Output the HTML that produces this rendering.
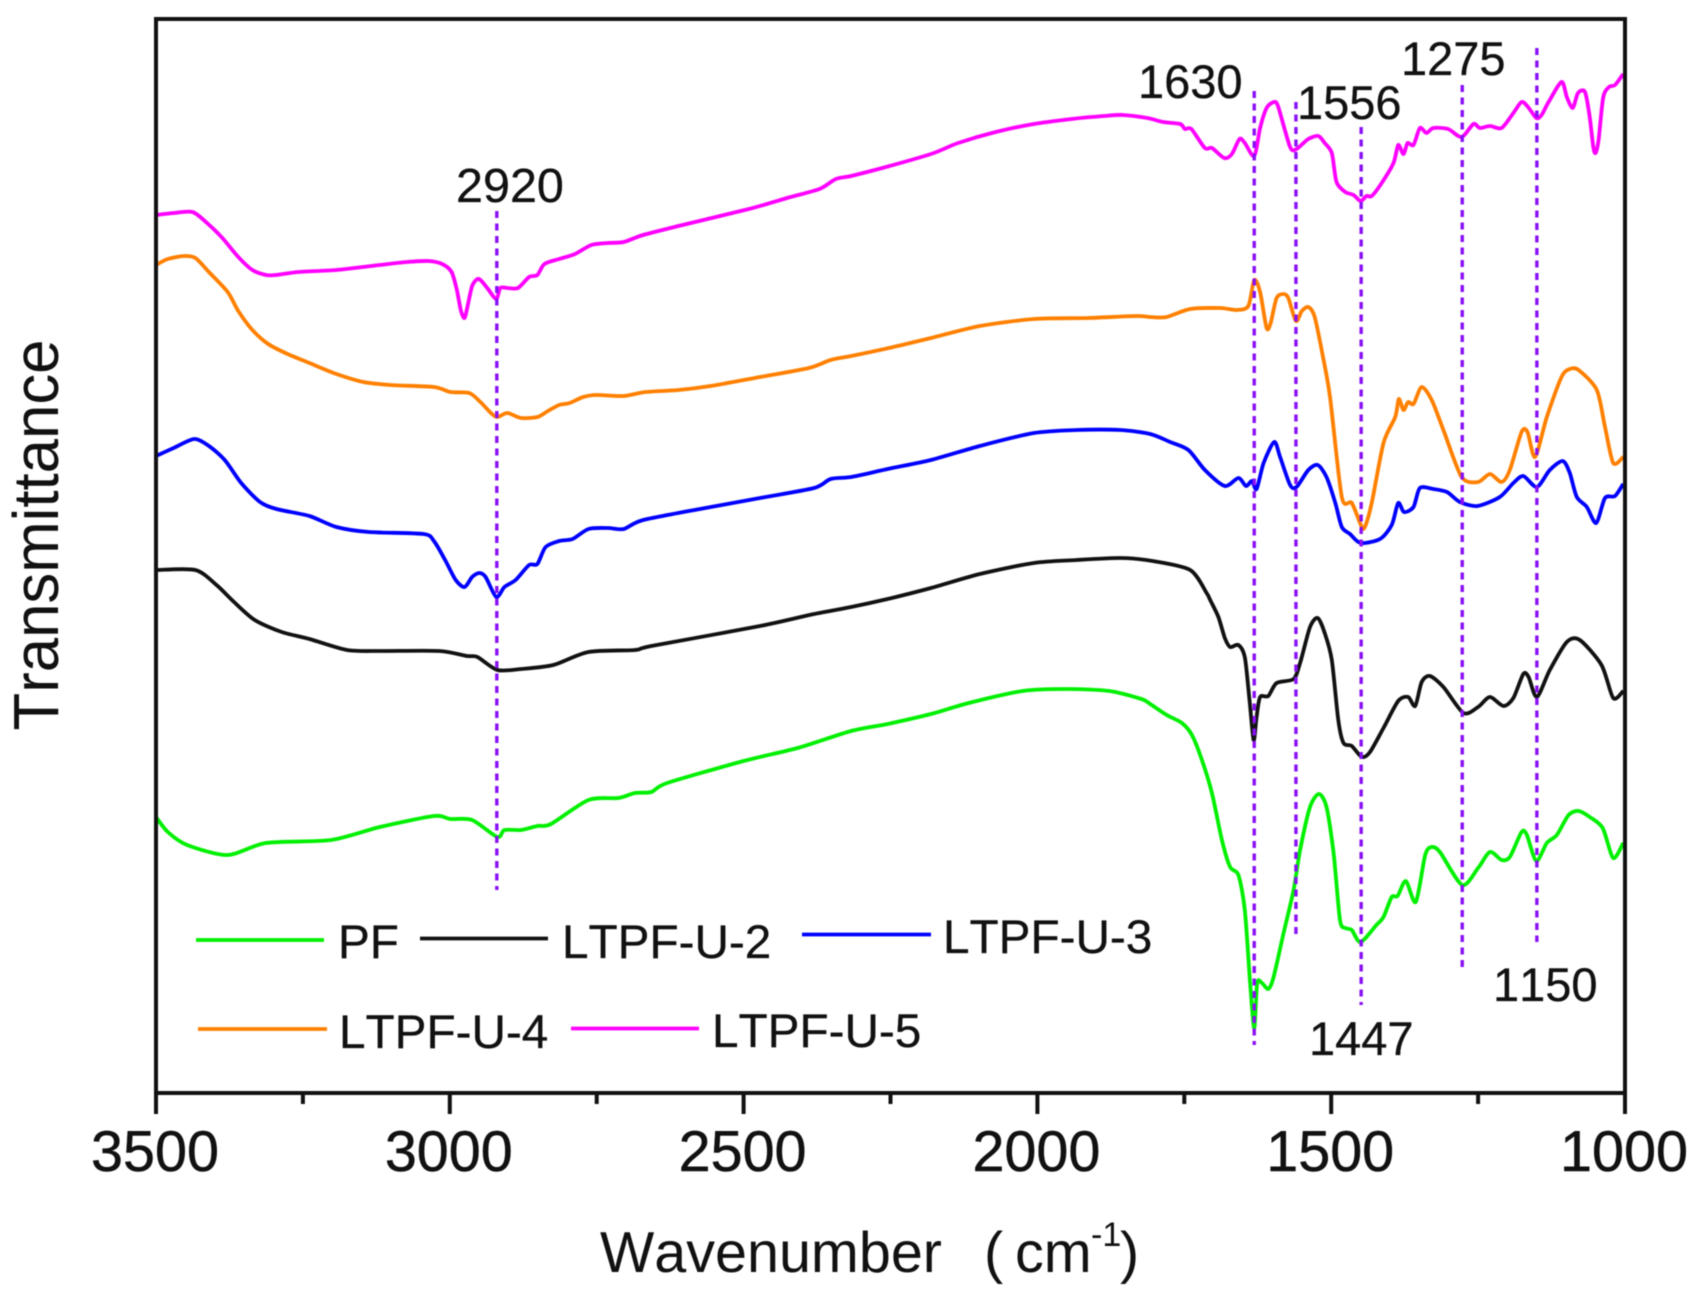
<!DOCTYPE html>
<html lang="en">
<head>
<meta charset="utf-8">
<title>FTIR transmittance spectra</title>
<style>
html,body{margin:0;padding:0;background:#fff;}
svg{display:block;filter:blur(0.45px);}
text{font-family:"Liberation Sans",Arial,sans-serif;fill:#111;font-kerning:none;}
.tick{font-size:57.5px;text-anchor:middle;stroke:#111;stroke-width:0.5px;}
.peak{font-size:47px;stroke:#111;stroke-width:0.3px;}
.leg{font-size:47.7px;stroke:#111;stroke-width:0.3px;}
</style>
</head>
<body>
<svg id="chart" xmlns="http://www.w3.org/2000/svg" width="1697" height="1300" viewBox="0 0 1697 1300">
  <rect x="0" y="0" width="1697" height="1300" fill="#fff"/>
  <g id="series-layer"></g>
  <g id="ref-layer"></g>
  <rect x="156" y="19" width="1469" height="1074" fill="none" stroke="#111" stroke-width="4"/>
  <g id="tick-layer"></g>

  <text transform="translate(58,535) rotate(-90)" text-anchor="middle" font-size="64" textLength="391" lengthAdjust="spacingAndGlyphs">Transmittance</text>
  <text font-size="57.5" y="1272"><tspan x="600">Wavenumber</tspan><tspan x="984">(</tspan><tspan x="1015">cm</tspan><tspan x="1091" y="1246" font-size="34">-1</tspan><tspan x="1120" y="1272">)</tspan></text>

  <text class="peak" x="456" y="202" style="font-size:48.5px">2920</text>
  <text class="peak" x="1138" y="98">1630</text>
  <text class="peak" x="1297" y="119">1556</text>
  <text class="peak" x="1401" y="75">1275</text>
  <text class="peak" x="1309" y="1055">1447</text>
  <text class="peak" x="1493" y="1001">1150</text>

  <g>
    <line x1="196" y1="940" x2="324" y2="940" stroke="#00f000" stroke-width="3.8"/>
    <text class="leg" x="338" y="958">PF</text>
    <line x1="420" y1="938.5" x2="548" y2="938.5" stroke="#111" stroke-width="3.8"/>
    <text class="leg" x="562" y="958">LTPF-U-2</text>
    <line x1="802" y1="934.5" x2="931" y2="934.5" stroke="#0000ff" stroke-width="3.8"/>
    <text class="leg" x="943" y="953">LTPF-U-3</text>
    <line x1="198" y1="1029" x2="327" y2="1029" stroke="#ff8000" stroke-width="3.8"/>
    <text class="leg" x="339" y="1048">LTPF-U-4</text>
    <line x1="571" y1="1028.5" x2="699" y2="1028.5" stroke="#ff00ff" stroke-width="3.8"/>
    <text class="leg" x="712" y="1047">LTPF-U-5</text>
  </g>
</svg>
<script>
// Axis data
const majorTicks = [3500, 3000, 2500, 2000, 1500, 1000];
const minorTicks = [3250, 2750, 2250, 1750, 1250];

// Peak reference lines: wavenumber as drawn and span in transmittance units (a.u.)
const peakWavenumbers = [2920, 1631, 1560, 1449, 1277, 1150];
const peakTopT = [882, 1002, 991, 966, 1008, 1045];
const peakBottomT = [203, 48, 156, 88, 123, 151];

// PF
const pfWn = [3500,3480,3447,3378,3313,3202,3119,3027,2999,2962,2919,2907,2879,2851,2828,2764,2713,2685,2657,2630,2500,2408,2317,2255,2181,2117,2025,1951,1878,1823,1808,1780,1754,1737,1720,1703,1686,1672,1658,1647,1638,1631,1626,1618,1607,1598,1581,1564,1553,1536,1521,1508,1496,1485,1476,1465,1450,1423,1411,1397,1387,1373,1356,1340,1329,1315,1277,1250,1230,1210,1196,1176,1167,1151,1133,1116,1096,1079,1060,1038,1020,1003];
const pfT = [276,261,248,238,250,253,266,277,274,273,256,263,263,267,269,293,295,300,301,310,332,345,362,369,379,390,402,404,402,394,389,378,370,358,333,300,253,226,218,183,110,65,110,110,104,116,160,203,243,286,299,286,240,173,165,163,151,168,176,196,197,212,191,238,246,241,208,225,241,233,236,261,258,232,250,258,278,282,276,265,235,250];

// LTPF-U-2
const u2Wn = [3500,3433,3397,3369,3332,3286,3239,3175,3119,3018,2971,2953,2919,2879,2824,2764,2685,2657,2472,2380,2317,2255,2181,2098,2006,1933,1859,1804,1740,1712,1706,1692,1681,1672,1658,1647,1639,1632,1627,1621,1607,1593,1564,1553,1536,1523,1511,1499,1488,1479,1465,1448,1434,1411,1386,1369,1357,1346,1332,1309,1275,1250,1230,1207,1190,1173,1164,1150,1128,1099,1077,1040,1020,1003];
const u2T = [523,523,508,492,473,461,454,443,442,442,437,436,423,424,428,441,443,447,467,479,486,494,505,519,530,533,535,532,523,500,493,476,455,446,448,436,393,353,376,396,397,410,414,430,466,475,460,433,373,350,347,336,341,365,392,396,387,411,417,406,380,386,396,387,395,419,416,396,423,451,453,428,395,402];

// LTPF-U-3
const u3Wn = [3500,3470,3435,3410,3383,3355,3323,3295,3239,3193,3138,3045,3027,3008,2990,2975,2962,2950,2939,2921,2907,2888,2865,2851,2837,2814,2791,2764,2731,2704,2671,2565,2472,2380,2352,2317,2255,2181,2098,2006,1933,1859,1808,1774,1743,1715,1681,1658,1645,1635,1627,1615,1597,1587,1570,1559,1539,1523,1508,1493,1482,1468,1450,1417,1397,1386,1376,1360,1349,1326,1303,1281,1251,1213,1190,1173,1150,1128,1106,1094,1082,1065,1049,1034,1017,1003];
const u3T = [637,645,654,647,633,610,591,584,577,566,561,559,552,533,513,506,516,520,516,496,506,513,528,529,546,552,554,564,565,564,573,585,595,605,614,616,624,633,647,660,663,663,659,651,643,623,607,615,607,612,604,630,651,636,608,606,623,628,616,590,566,559,550,554,568,590,581,586,605,604,601,591,587,596,610,617,606,623,632,620,596,586,570,595,597,609];

// LTPF-U-4
const u4Wn = [3500,3480,3452,3433,3410,3378,3360,3336,3309,3276,3239,3193,3147,3101,3027,2999,2967,2948,2930,2919,2902,2879,2851,2833,2814,2796,2773,2750,2704,2667,2611,2556,2472,2389,2352,2317,2245,2181,2098,2006,1914,1832,1808,1780,1740,1689,1661,1641,1631,1621,1610,1603,1593,1581,1573,1560,1550,1539,1528,1513,1502,1482,1465,1448,1442,1431,1411,1391,1385,1377,1369,1360,1346,1329,1309,1278,1250,1230,1210,1196,1176,1166,1153,1133,1108,1094,1079,1048,1034,1020,1003];
const u4T = [828,834,837,835,821,801,782,763,749,739,730,719,711,708,706,701,700,691,680,676,680,675,676,682,688,690,696,698,697,701,703,707,716,725,733,737,746,755,767,774,775,777,776,776,784,785,783,787,813,801,765,770,795,799,795,772,782,786,776,733,696,596,590,566,567,590,650,676,694,683,691,689,706,693,663,616,611,619,611,623,661,661,636,676,716,724,723,703,666,630,636];

// LTPF-U-5
const u5Wn = [3500,3470,3438,3415,3387,3360,3336,3313,3295,3258,3193,3119,3073,3036,3013,2997,2988,2981,2975,2970,2962,2953,2946,2935,2921,2914,2902,2884,2865,2851,2839,2814,2787,2759,2731,2704,2671,2611,2491,2426,2371,2343,2317,2264,2181,2135,2071,2006,1942,1887,1855,1813,1786,1757,1749,1738,1715,1703,1682,1669,1656,1647,1631,1621,1610,1597,1590,1570,1559,1539,1522,1511,1499,1491,1476,1462,1450,1440,1431,1414,1394,1386,1377,1370,1360,1349,1338,1326,1301,1278,1258,1247,1230,1210,1190,1176,1165,1151,1142,1130,1108,1099,1089,1080,1068,1060,1054,1050,1045,1037,1027,1017,1003];
const u5T = [878,880,881,871,855,836,823,818,818,821,823,828,831,832,829,821,803,782,775,786,807,814,812,804,794,805,805,805,816,818,829,834,839,848,850,851,858,867,884,895,904,914,917,925,939,950,961,969,974,977,978,975,971,969,964,964,945,945,935,939,954,950,937,965,985,991,986,946,944,954,957,950,940,911,901,898,892,897,897,910,930,948,939,950,948,965,960,965,964,956,969,965,967,965,980,991,986,975,978,991,1011,996,985,1000,1001,976,946,940,953,996,1006,1008,1019];

const NS = 'http://www.w3.org/2000/svg';
const plot = { left: 156, right: 1625, top: 19, bottom: 1093 };
const xDomain = [3500, 1000];
const yDomain = [0, 1074];

function xScale(w) {
  return plot.left + (w - xDomain[0]) / (xDomain[1] - xDomain[0]) * (plot.right - plot.left);
}
function yScale(t) {
  return plot.bottom - (t - yDomain[0]) / (yDomain[1] - yDomain[0]) * (plot.bottom - plot.top);
}
function curvePath(wn, vals) {
  const pts = wn.map(function (w, i) { return [xScale(w), yScale(vals[i])]; });
  const k = 0.8 / 6;
  let d = 'M' + pts[0][0].toFixed(1) + ' ' + pts[0][1].toFixed(1);
  for (let i = 0; i < pts.length - 1; i++) {
    const p0 = pts[Math.max(i - 1, 0)];
    const p1 = pts[i];
    const p2 = pts[i + 1];
    const p3 = pts[Math.min(i + 2, pts.length - 1)];
    const c1x = p1[0] + (p2[0] - p0[0]) * k;
    const c1y = p1[1] + (p2[1] - p0[1]) * k;
    const c2x = p2[0] - (p3[0] - p1[0]) * k;
    const c2y = p2[1] - (p3[1] - p1[1]) * k;
    d += 'C' + c1x.toFixed(1) + ' ' + c1y.toFixed(1) + ' ' + c2x.toFixed(1) + ' ' + c2y.toFixed(1) + ' ' + p2[0].toFixed(1) + ' ' + p2[1].toFixed(1);
  }
  return d;
}

const seriesLayer = document.getElementById('series-layer');
function addSeries(name, wn, vals, color) {
  const el = document.createElementNS(NS, 'path');
  
  
  el.setAttribute('d', curvePath(wn, vals));
  el.setAttribute('fill', 'none');
  el.setAttribute('stroke', color);
  el.setAttribute('stroke-width', '3.8');
  el.setAttribute('stroke-linejoin', 'round');
  seriesLayer.appendChild(el);
}
addSeries('series-pf', pfWn, pfT, '#00f000');
addSeries('series-ltpf-u-2', u2Wn, u2T, '#111111');
addSeries('series-ltpf-u-3', u3Wn, u3T, '#0000ff');
addSeries('series-ltpf-u-4', u4Wn, u4T, '#ff8000');
addSeries('series-ltpf-u-5', u5Wn, u5T, '#ff00ff');

const refLayer = document.getElementById('ref-layer');
peakWavenumbers.forEach(function (w, i) {
  const el = document.createElementNS(NS, 'line');
  
  
  el.setAttribute('x1', xScale(w));
  el.setAttribute('x2', xScale(w));
  el.setAttribute('y1', yScale(peakTopT[i]));
  el.setAttribute('y2', yScale(peakBottomT[i]));
  el.setAttribute('stroke', '#8a10f5');
  el.setAttribute('stroke-width', '3.4');
  el.setAttribute('stroke-dasharray', '7 5.5');
  refLayer.appendChild(el);
});

const tickLayer = document.getElementById('tick-layer');
majorTicks.forEach(function (v) {
  const t = document.createElementNS(NS, 'line');
  
  
  t.setAttribute('x1', xScale(v));
  t.setAttribute('x2', xScale(v));
  t.setAttribute('y1', plot.bottom);
  t.setAttribute('y2', plot.bottom + 21);
  t.setAttribute('stroke', '#111');
  t.setAttribute('stroke-width', '4');
  tickLayer.appendChild(t);
  const lab = document.createElementNS(NS, 'text');
  
  
  lab.setAttribute('class', 'tick');
  lab.setAttribute('x', xScale(v) - 1);
  lab.setAttribute('y', 1171);
  lab.textContent = String(v);
  tickLayer.appendChild(lab);
});
minorTicks.forEach(function (v) {
  const t = document.createElementNS(NS, 'line');
  
  
  t.setAttribute('x1', xScale(v));
  t.setAttribute('x2', xScale(v));
  t.setAttribute('y1', plot.bottom);
  t.setAttribute('y2', plot.bottom + 11);
  t.setAttribute('stroke', '#111');
  t.setAttribute('stroke-width', '4');
  tickLayer.appendChild(t);
});
</script>
</body>
</html>
